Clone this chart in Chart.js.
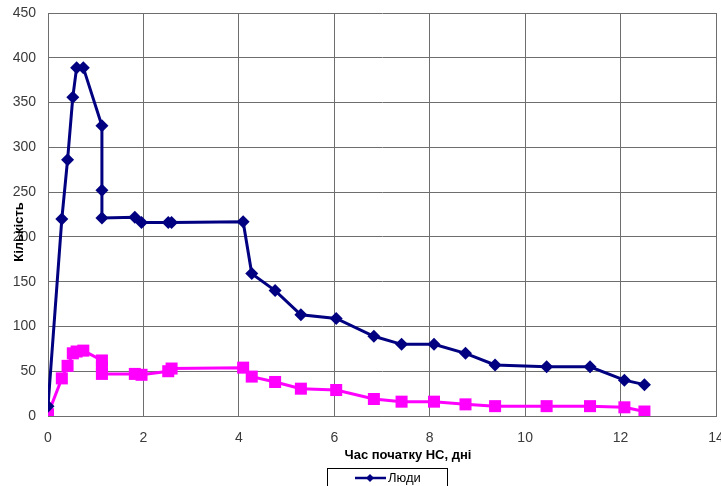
<!DOCTYPE html>
<html>
<head>
<meta charset="utf-8">
<script src="https://cdn.jsdelivr.net/npm/chart.js@4/dist/chart.umd.min.js"></script>
<style>
    html, body { margin: 0; padding: 0; background: #fff; }
    canvas { display: block; }
</style>
</head>
<body>
<canvas id="chart" width="721" height="486"></canvas>
<script>
const days = [0, 0.29, 0.41, 0.52, 0.60, 0.74, 1.13, 1.13, 1.13, 1.82, 1.96, 2.52, 2.59, 4.09, 4.27, 4.76, 5.30, 6.04, 6.83, 7.41, 8.09, 8.75, 9.37, 10.45, 11.36, 12.08, 12.50];
const people = [11, 220, 286, 356, 389, 389, 324, 252, 221, 222, 216, 216, 216, 217, 159, 140, 113, 109, 89, 80, 80, 70, 57, 55, 55, 40, 35];
const second = [2, 42, 56, 70, 72, 73, 62, 55, 47, 47, 46, 50, 53, 54, 44, 38, 30.5, 29, 19, 16, 16, 13, 11, 11, 11, 9.7, 5];
const xTicks = [0, 2, 4, 6, 8, 10, 12, 14];
const yTicks = [0, 50, 100, 150, 200, 250, 300, 350, 400, 450];

const colors = {
    navy: '#000080',
    magenta: '#ff00ff',
    grid: '#6e6e6e',
    text: '#3a3a3a',
};
const font = "'Liberation Sans', Arial, sans-serif";

const toPoints = (xs, ys) => xs.map((x, i) => ({ x, y: ys[i] }));

const decorations = {
    id: 'decorations',
    afterDraw(chart) {
        const ctx = chart.ctx;
        ctx.save();
        ctx.fillStyle = '#000';
        ctx.textBaseline = 'middle';

        // axis titles
        ctx.font = `bold 13px ${font}`;
        ctx.textAlign = 'center';
        ctx.fillText('Час початку НС, дні', 408, 455);
        ctx.save();
        ctx.translate(19, 232);
        ctx.rotate(-Math.PI / 2);
        ctx.fillText('Кількість', 0, 0);
        ctx.restore();

        // legend (only the first entry is visible)
        ctx.strokeStyle = '#000';
        ctx.lineWidth = 1;
        ctx.strokeRect(327.5, 468.5, 120, 30);
        const ds = chart.data.datasets[0];
        ctx.strokeStyle = ds.borderColor;
        ctx.lineWidth = 2.5;
        ctx.beginPath();
        ctx.moveTo(355, 478);
        ctx.lineTo(386, 478);
        ctx.stroke();
        ctx.fillStyle = ds.borderColor;
        ctx.beginPath();
        ctx.moveTo(370, 474);
        ctx.lineTo(374, 478);
        ctx.lineTo(370, 482);
        ctx.lineTo(366, 478);
        ctx.closePath();
        ctx.fill();
        ctx.fillStyle = '#000';
        ctx.font = `13px ${font}`;
        ctx.textAlign = 'left';
        ctx.fillText('Люди', 388, 478);
        ctx.restore();
    },
};

new Chart(document.getElementById('chart'), {
    type: 'scatter',
    data: {
        datasets: [
            {
                label: 'Люди',
                data: toPoints(days, people),
                showLine: true,
                borderColor: colors.navy,
                backgroundColor: colors.navy,
                borderWidth: 3,
                pointStyle: 'rectRot',
                pointRadius: 6.5,
                pointBorderWidth: 0,
            },
            {
                label: 'Ряд 2',
                data: toPoints(days, second),
                showLine: true,
                borderColor: colors.magenta,
                backgroundColor: colors.magenta,
                borderWidth: 3,
                pointStyle: 'rect',
                pointRadius: 8.5,
                pointBorderWidth: 0,
            },
        ],
    },
    options: {
        responsive: false,
        animation: false,
        layout: { autoPadding: false, padding: { top: 13, right: 5, left: 0, bottom: 0 } },
        plugins: {
            legend: { display: false },
            tooltip: { enabled: false },
        },
        scales: {
            x: {
                type: 'linear',
                min: 0,
                max: 14,
                afterBuildTicks(scale) { scale.ticks = xTicks.map((v) => ({ value: v })); },
                afterFit(scale) {
                    scale.height = 70;
                    scale.paddingLeft = 0;
                    scale.paddingRight = 0;
                },
                grid: { color: colors.grid, lineWidth: 1, drawTicks: false },
                border: { color: colors.grid },
                ticks: { color: colors.text, padding: 14, maxRotation: 0, font: { family: font, size: 14 } },
            },
            y: {
                min: 0,
                max: 450,
                afterBuildTicks(scale) { scale.ticks = yTicks.map((v) => ({ value: v })); },
                afterFit(scale) {
                    scale.width = 48;
                    scale.paddingTop = 0;
                    scale.paddingBottom = 0;
                },
                grid: { color: colors.grid, lineWidth: 1, drawTicks: false },
                border: { color: colors.grid },
                ticks: { color: colors.text, padding: 12, font: { family: font, size: 14 } },
            },
        },
    },
    plugins: [decorations],
});
</script>
</body>
</html>
